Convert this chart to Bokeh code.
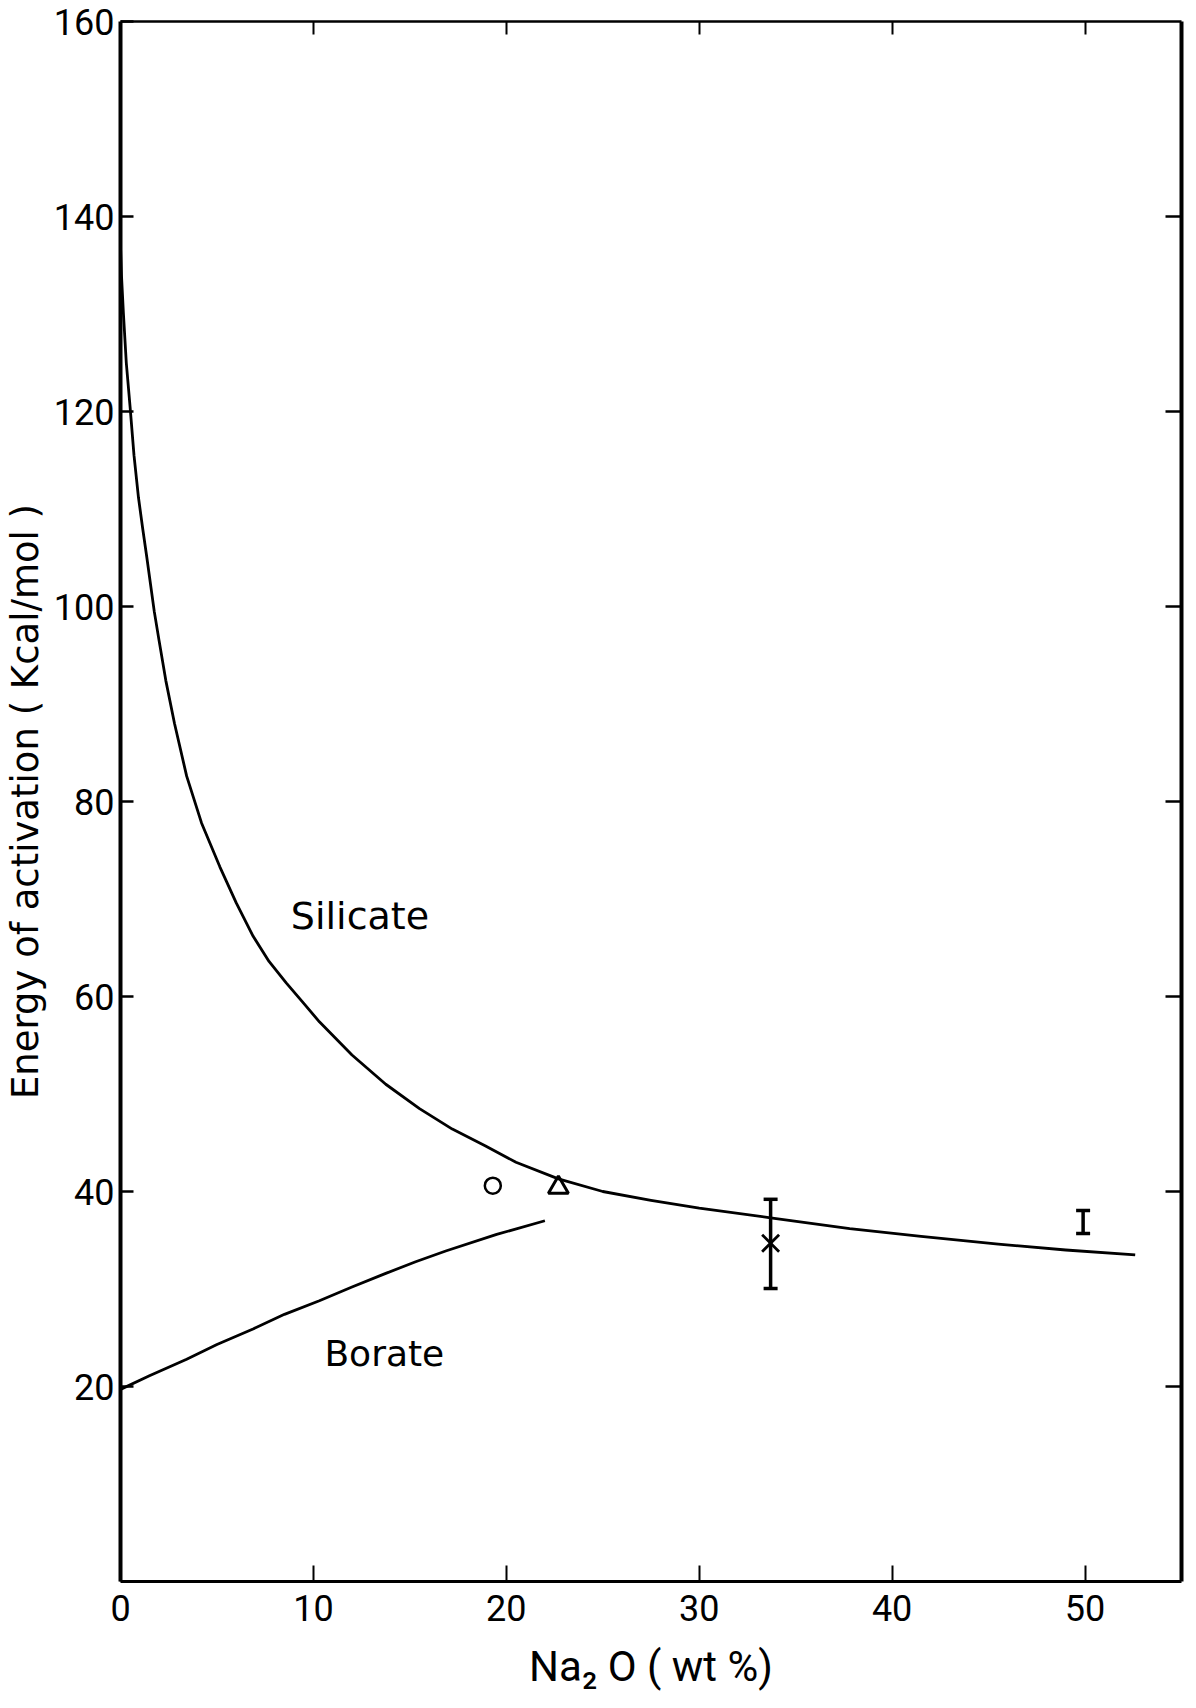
from bokeh.plotting import figure
from bokeh.models import LinearAxis, FixedTicker, Range1d, Whisker, ColumnDataSource
from bokeh.embed import file_html
from bokeh.resources import INLINE
from bokeh.core.properties import value

# ---- data ----
silicate_x = [0.0, 0.05, 0.15, 0.3, 0.5, 0.7, 0.93, 1.15, 1.36, 1.75, 2.0, 2.35, 2.8,
              3.43, 4.2, 5.15, 6.0, 6.87, 7.7, 8.59, 9.5, 10.31, 12.0, 13.75, 15.5,
              17.2, 18.9, 20.5, 22.7, 25.0, 27.5, 30.0, 33.7, 37.8, 41.5, 45.5, 49.0, 52.6]
silicate_y = [137.0, 134.0, 130.1, 125.0, 120.4, 115.5, 111.2, 108.0, 105.1, 99.5, 96.5,
              92.4, 88.0, 82.6, 77.8, 73.3, 69.6, 66.2, 63.6, 61.4, 59.3, 57.4, 54.0,
              51.0, 48.5, 46.4, 44.7, 43.0, 41.3, 40.0, 39.1, 38.3, 37.3, 36.2, 35.4,
              34.6, 34.0, 33.5]

borate_x = [0.0, 1.5, 3.43, 5.0, 6.87, 8.5, 10.31, 12.0, 13.75, 15.3, 16.86, 19.5, 22.0]
borate_y = [19.7, 21.1, 22.8, 24.3, 25.9, 27.4, 28.8, 30.2, 31.6, 32.8, 33.9, 35.6, 37.0]

circle_x, circle_y = [19.3], [40.6]
triangle_x, triangle_y = [22.7], [40.4]
cross_x, cross_y = [33.7], [34.7]
err_x = [33.7, 49.9]
err_lower = [30.05, 35.7]
err_upper = [39.2, 38.05]

x_ticks = [0, 10, 20, 30, 40, 50]
y_ticks = [20, 40, 60, 80, 100, 120, 140, 160]
inner_x_ticks = [10, 20, 30, 40, 50]
inner_y_ticks = [20, 40, 60, 80, 100, 120, 140]

x_label = "Na\u2082 O ( wt %)"
y_label = "Energy of activation ( Kcal/mol )"
silicate_label = "Silicate"
borate_label = "Borate"

TICK_FONT = "Roboto"
TEXT_FONT = "DejaVu Sans"

p = figure(width=1196, height=1708, output_backend="svg", toolbar_location=None,
           x_range=Range1d(0, 55), y_range=Range1d(0, 160),
           x_axis_location=None, y_axis_location=None,
           min_border_left=117, min_border_right=15, min_border_top=21,
           min_border_bottom=127)
p.grid.visible = False
p.outline_line_color = None
p.background_fill_color = "white"
p.border_fill_color = "white"


def style_axis(ax, tick_in, lw, tick_w=2.5):
    ax.axis_line_color = "black"
    ax.axis_line_width = lw
    ax.major_tick_line_color = "black"
    ax.major_tick_line_width = tick_w
    ax.major_tick_in = tick_in
    ax.major_tick_out = 0
    ax.minor_tick_line_color = None
    ax.major_label_text_font = TICK_FONT
    ax.major_label_text_font_size = "36px"
    ax.major_label_text_color = "black"


left = LinearAxis(ticker=FixedTicker(ticks=y_ticks), axis_label=y_label)
style_axis(left, 13, 4)
left.major_label_standoff = 6
left.axis_label_text_font = TEXT_FONT
left.axis_label_text_font_size = "37px"
left.axis_label_text_font_style = "normal"
left.axis_label_text_color = "black"
left.axis_label_standoff = 4
p.add_layout(left, "left")

bottom = LinearAxis(ticker=FixedTicker(ticks=x_ticks), axis_label=x_label)
style_axis(bottom, 16, 3, 2)
bottom.major_label_standoff = 13
bottom.axis_label_text_font = TICK_FONT
bottom.axis_label_text_font_size = "42px"
bottom.axis_label_text_font_style = "normal"
bottom.axis_label_text_color = "black"
bottom.axis_label_standoff = 18
p.add_layout(bottom, "below")

right = LinearAxis(ticker=FixedTicker(ticks=inner_y_ticks))
style_axis(right, 16, 4)
right.major_label_overrides = {t: "" for t in inner_y_ticks}
right.major_label_standoff = 0
p.add_layout(right, "right")

top = LinearAxis(ticker=FixedTicker(ticks=inner_x_ticks))
style_axis(top, 13, 2.5, 2)
top.major_label_overrides = {t: "" for t in inner_x_ticks}
top.major_label_standoff = 0
p.add_layout(top, "above")

# curves
p.line(silicate_x, silicate_y, line_color="black", line_width=2.8, line_join="round")
p.line(borate_x, borate_y, line_color="black", line_width=2.8, line_join="round")

# markers
p.scatter(circle_x, circle_y, marker="circle", size=16,
          fill_color=None, line_color="black", line_width=2.5)
p.scatter(triangle_x, triangle_y, marker="triangle", size=20,
          fill_color=None, line_color="black", line_width=3)
p.scatter(cross_x, cross_y, marker="x", size=24,
          line_color="black", line_width=2.8)

err_src = ColumnDataSource(dict(x=err_x, lower=err_lower, upper=err_upper))
wh = Whisker(source=err_src, base="x", lower="lower", upper="upper",
             dimension="height", line_color="black", line_width=3.5)
wh.upper_head.size = 14
wh.lower_head.size = 14
wh.upper_head.line_width = 3.5
wh.lower_head.line_width = 3.5
p.add_layout(wh)

# text labels
p.text(x=[8.83], y=[68.3], text=[silicate_label], text_font=value(TEXT_FONT),
       text_font_size="38px", text_color="black", text_baseline="alphabetic",
       text_align="left")
p.text(x=[10.57], y=[23.35], text=[borate_label], text_font=value(TEXT_FONT),
       text_font_size="36px", text_color="black", text_baseline="alphabetic",
       text_align="left")

open("out.html", "w").write(file_html(p, INLINE))
